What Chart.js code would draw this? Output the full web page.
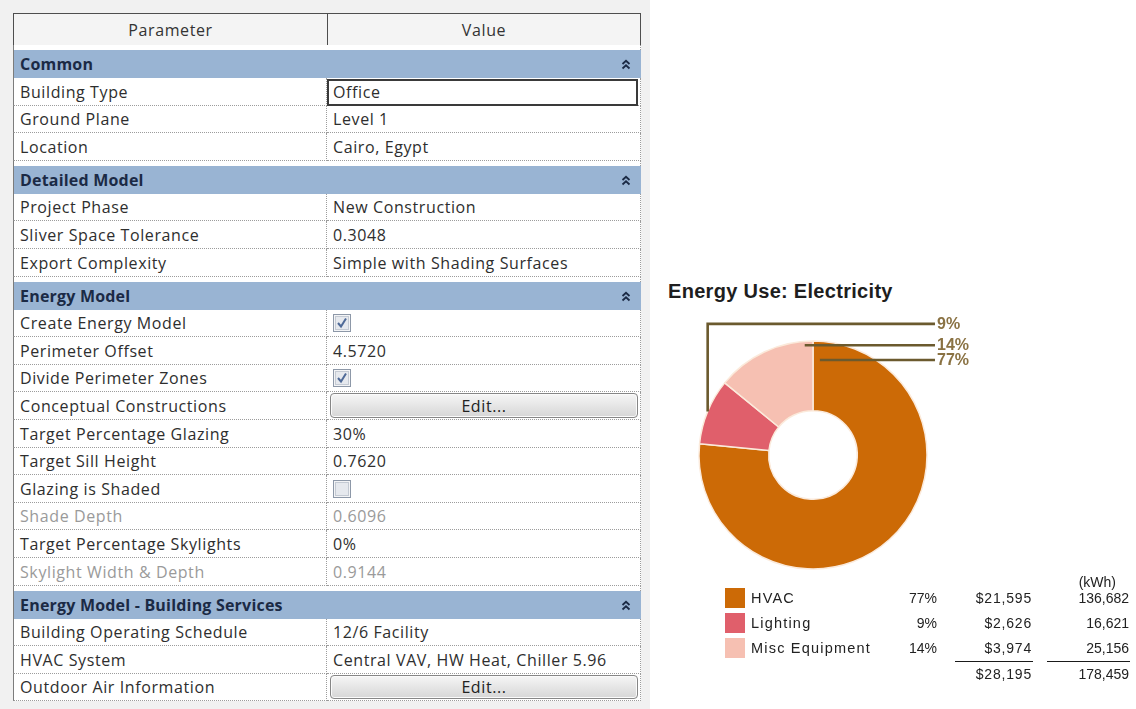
<!DOCTYPE html>
<html>
<head>
<meta charset="utf-8">
<script src="https://cdn.jsdelivr.net/npm/chart.js@4.4.1/dist/chart.umd.min.js"></script>
<style>
  html, body { margin:0; padding:0; width:1136px; height:709px; overflow:hidden; background:#ffffff; position:relative; }
  #panel { position:absolute; left:0; top:0; width:650px; height:709px; background:#f1f1f1; }
  .cell { position:absolute; box-sizing:border-box; font-family:"Open Sans","Noto Sans",sans-serif; font-size:16px; letter-spacing:0.6px; color:#2e2e2e; white-space:nowrap; line-height:1; display:flex; align-items:center; }
  .hdr { background:#f4f4f4; border:1px solid #4e4e4e; justify-content:center; color:#333; }
  .row { background:#ffffff; border-bottom:1px dotted #9c9c9c; }
  .lcol { border-left:1px solid #7c7c7c; border-right:1px dotted #9c9c9c; padding-left:6px; }
  .rcol { border-right:1px dotted #9c9c9c; padding-left:6px; }
  .grp { background:#99b4d3; border-left:1px solid #7c7c7c; font-weight:bold; letter-spacing:0.2px; color:#1b2a45; padding-left:6px; }
  .spacer { background:#ffffff; border-left:1px solid #7c7c7c; border-right:1px dotted #9c9c9c; }
  .dis { color:#9a9a9a; }
  .btn { position:absolute; box-sizing:border-box; border:1px solid #868686; border-radius:4px; background:linear-gradient(#f6f6f6,#e6e6e6 50%,#d6d6d6); font-family:"Open Sans","Noto Sans",sans-serif; font-size:16px; letter-spacing:0.6px; color:#222; display:flex; align-items:center; justify-content:center; box-shadow: inset 0 0 0 1px #fbfbfb; }
  .box { position:absolute; box-sizing:border-box; border:2px solid #3a3a3a; }
  #title { position:absolute; left:668px; top:280px; font-family:"Liberation Sans",Arial,sans-serif; font-weight:bold; font-size:20px; letter-spacing:0.3px; color:#1e1e1e; white-space:nowrap; }
  #chartCanvas { position:absolute; left:650px; top:260px; }
  .lg { position:absolute; font-family:"Liberation Sans",Arial,sans-serif; font-size:14px; color:#222; white-space:nowrap; line-height:16px; }
  .lbl { letter-spacing:1.2px; font-size:14.5px; }
  .cost { letter-spacing:0.8px; }
  .sw { position:absolute; width:20px; height:20px; }
  .uline { position:absolute; height:1px; background:#1a1a1a; }
</style>
</head>
<body>
<div id="panel"></div>
<div id="table"></div>
<div id="title">Energy Use: Electricity</div>
<canvas id="chartCanvas" width="486" height="340"></canvas>
<div id="legend"></div>
<script>
// ---------------- data ----------------
const categories = ['HVAC', 'Lighting', 'Misc Equipment'];
const energyKWh = [136682, 16621, 25156];
const costUSD = [21595, 2626, 3974];
const sliceColors = ['#cc6a06', '#e05f6b', '#f6c0b2'];

const paramRows = [
  ['group', 'Common'],
  ['Building Type', 'Office', 'box'],
  ['Ground Plane', 'Level 1'],
  ['Location', 'Cairo, Egypt'],
  ['group', 'Detailed Model'],
  ['Project Phase', 'New Construction'],
  ['Sliver Space Tolerance', '0.3048'],
  ['Export Complexity', 'Simple with Shading Surfaces'],
  ['group', 'Energy Model'],
  ['Create Energy Model', true, 'check'],
  ['Perimeter Offset', '4.5720'],
  ['Divide Perimeter Zones', true, 'check'],
  ['Conceptual Constructions', 'Edit...', 'button'],
  ['Target Percentage Glazing', '30%'],
  ['Target Sill Height', '0.7620'],
  ['Glazing is Shaded', false, 'check'],
  ['Shade Depth', '0.6096', 'disabled'],
  ['Target Percentage Skylights', '0%'],
  ['Skylight Width & Depth', '0.9144', 'disabled'],
  ['group', 'Energy Model - Building Services'],
  ['Building Operating Schedule', '12/6 Facility'],
  ['HVAC System', 'Central VAV, HW Heat, Chiller 5.96'],
  ['Outdoor Air Information', 'Edit...', 'button']
];

// ---------------- parameter table (HTML) ----------------
(function buildTable() {
  const T = document.getElementById('table');
  const X0 = 13, XM = 327, X1 = 641;
  const ROW = 27.6, GRP = 28, GAP = 5;
  function add(cls, x, y, w, h, html) {
    const d = document.createElement('div');
    d.className = cls;
    d.style.left = x + 'px'; d.style.top = y + 'px';
    d.style.width = w + 'px'; d.style.height = h + 'px';
    if (html !== undefined) d.innerHTML = html;
    T.appendChild(d);
    return d;
  }
  add('cell hdr', X0, 13, XM - X0 + 1, 33, 'Parameter');
  add('cell hdr', XM, 13, X1 - XM, 33, 'Value');
  let y = 45;
  const chevron = '<svg width="10" height="11" viewBox="0 0 10 11" style="position:absolute;right:10px;top:9px"><polyline points="1.5,5 5,1.8 8.5,5" fill="none" stroke="#1b2a45" stroke-width="1.8"/><polyline points="1.5,9.5 5,6.3 8.5,9.5" fill="none" stroke="#1b2a45" stroke-width="1.8"/></svg>';
  const esc = s => String(s).replace(/&/g, '&amp;');
  paramRows.forEach(r => {
    if (r[0] === 'group') {
      add('cell spacer', X0, Math.round(y), X1 - X0, GAP);
      y += GAP;
      const yy = Math.round(y), h = Math.round(y + GRP) - yy;
      add('cell grp', X0, yy, X1 - X0, h, esc(r[1]) + chevron);
      y += GRP;
      return;
    }
    const yy = Math.round(y), h = Math.round(y + ROW) - yy;
    const dis = r[2] === 'disabled' ? ' dis' : '';
    add('cell row lcol' + dis, X0, yy, XM - X0, h, esc(r[0]));
    const vc = add('cell row rcol' + dis, XM, yy, X1 - XM, h, '');
    if (r[2] === 'check') {
      vc.innerHTML = '<svg width="18" height="18" viewBox="0 0 18 18"><rect x="0.5" y="0.5" width="17" height="17" fill="#f3f4f6" stroke="#8d98a8"/><rect x="2.5" y="2.5" width="13" height="13" fill="#e6e9ee" stroke="#c4cad3"/>' +
        (r[1] ? '<polyline points="5,9 8,12.5 13,4.5" fill="none" stroke="#4f6a98" stroke-width="2"/>' : '') + '</svg>';
    } else if (r[2] === 'button') {
      add('btn', XM + 3, yy + 1, X1 - XM - 6, h - 3, esc(r[1]));
    } else {
      vc.innerHTML = esc(r[1]);
      if (r[2] === 'box') add('box', XM, yy + 1, X1 - XM - 3, h - 1);
    }
    y += ROW;
  });
})();

// ---------------- chart ----------------
const totalKWh = energyKWh.reduce((a, b) => a + b, 0);
const totalCost = costUSD.reduce((a, b) => a + b, 0);
const pctLabels = energyKWh.map(v => Math.round(v / totalKWh * 100) + '%');

// leader-line styling per slice: position inside arc (fraction of angle / radius), elbow height
const leaderStyle = [
  { frac: 0.015, rfrac: 0.835, elbowY: null },
  { frac: 0.5,   rfrac: 1.0,   elbowY: -1.15 },
  { frac: 0.915, rfrac: 0.965, elbowY: null }
];

const leaderPlugin = {
  id: 'leaders',
  afterDatasetsDraw(chart) {
    const ctx = chart.ctx;
    const arcs = chart.getDatasetMeta(0).data;
    ctx.save();
    ctx.strokeStyle = '#6b5a2e';
    ctx.lineWidth = 2.6;
    ctx.font = 'bold 16px "Liberation Sans", Arial, sans-serif';
    ctx.fillStyle = '#8a7243';
    ctx.textBaseline = 'middle';
    arcs.forEach((arc, i) => {
      const p = arc.getProps(['x', 'y', 'startAngle', 'endAngle', 'outerRadius'], true);
      const st = leaderStyle[i];
      const a = p.startAngle + (p.endAngle - p.startAngle) * st.frac;
      const r = p.outerRadius * st.rfrac;
      const ax = p.x + Math.cos(a) * r;
      const ay = p.y + Math.sin(a) * r;
      const endX = p.x + p.outerRadius * 1.07;
      ctx.beginPath();
      let ly = ay;
      ctx.moveTo(ax, ay);
      if (st.elbowY !== null) {
        ly = p.y + p.outerRadius * st.elbowY;
        ctx.lineTo(ax, ly);
      }
      ctx.lineTo(endX, ly);
      ctx.stroke();
      ctx.fillText(pctLabels[i], endX + 2, ly + 0.5);
    });
    ctx.restore();
  }
};

new Chart(document.getElementById('chartCanvas'), {
  type: 'doughnut',
  data: {
    labels: categories,
    datasets: [{
      data: energyKWh,
      backgroundColor: sliceColors,
      borderColor: '#fbeadb',
      borderWidth: 1.5,
      hoverOffset: 0
    }]
  },
  options: {
    responsive: false,
    animation: false,
    radius: 114,
    cutout: 44,
    layout: { padding: { left: 49, right: 209, top: 81, bottom: 31 } },
    plugins: { legend: { display: false }, title: { display: false }, tooltip: { enabled: false } }
  },
  plugins: [leaderPlugin]
});

// ---------------- legend table (HTML) ----------------
(function buildLegend() {
  const L = document.getElementById('legend');
  const fmt = n => n.toLocaleString('en-US');
  function txt(s, x, y, align, extra) {
    const d = document.createElement('div');
    d.className = 'lg' + (extra ? ' ' + extra : '');
    d.textContent = s;
    d.style.top = (y - 8) + 'px';
    if (align === 'right') { d.style.right = (1136 - x) + 'px'; } else { d.style.left = x + 'px'; }
    L.appendChild(d);
  }
  const rowY = [598, 623, 648];
  txt('(kWh)', 1116, 582, 'right');
  categories.forEach((c, i) => {
    const sw = document.createElement('div');
    sw.className = 'sw';
    sw.style.left = '725px'; sw.style.top = (rowY[i] - 10) + 'px';
    sw.style.background = sliceColors[i];
    L.appendChild(sw);
    txt(c, 751, rowY[i], 'left', 'lbl');
    txt(pctLabels[i], 937, rowY[i], 'right');
    txt('$' + fmt(costUSD[i]), 1032, rowY[i], 'right', 'cost');
    txt(fmt(energyKWh[i]), 1129, rowY[i], 'right');
  });
  [[955, 1033], [1047, 1130]].forEach(([a, b]) => {
    const u = document.createElement('div');
    u.className = 'uline';
    u.style.left = a + 'px'; u.style.width = (b - a) + 'px'; u.style.top = '661px';
    L.appendChild(u);
  });
  txt('$' + fmt(totalCost), 1032, 674, 'right', 'cost');
  txt(fmt(totalKWh), 1129, 674, 'right');
})();
</script>
</body>
</html>
